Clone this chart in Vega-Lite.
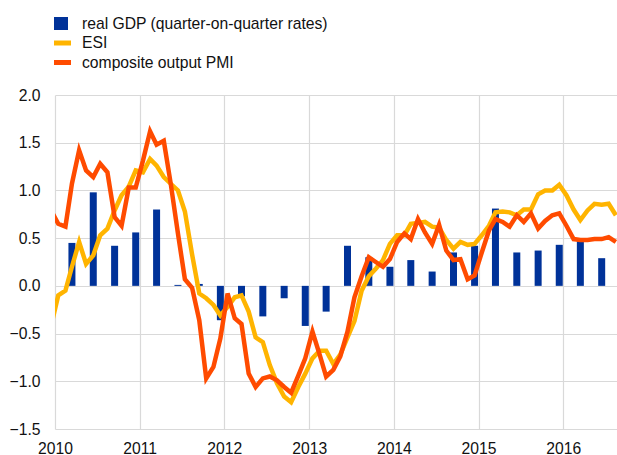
{
  "$schema": "https://vega.github.io/schema/vega-lite/v6.json",
  "width": 562,
  "height": 334,
  "autosize": {"type": "none"},
  "padding": {"left": 55, "top": 95, "right": 0, "bottom": 26},
  "background": "white",
  "config": {
    "view": {"stroke": null},
    "font": "Liberation Sans",
    "axis": {
      "domain": false,
      "ticks": false,
      "tickSize": 0,
      "gridColor": "#d9d9d9",
      "gridWidth": 1.2,
      "labelFont": "Liberation Sans",
      "labelFontSize": 15.7,
      "labelColor": "#111111",
      "title": null
    }
  },
  "datasets": {
    "gdp": [
      {"date": "2010-03-15", "series": "real GDP (quarter-on-quarter rates)", "gdp": 0.45},
      {"date": "2010-06-15", "series": "real GDP (quarter-on-quarter rates)", "gdp": 0.98},
      {"date": "2010-09-15", "series": "real GDP (quarter-on-quarter rates)", "gdp": 0.42},
      {"date": "2010-12-15", "series": "real GDP (quarter-on-quarter rates)", "gdp": 0.56},
      {"date": "2011-03-15", "series": "real GDP (quarter-on-quarter rates)", "gdp": 0.80},
      {"date": "2011-06-15", "series": "real GDP (quarter-on-quarter rates)", "gdp": 0.01},
      {"date": "2011-09-15", "series": "real GDP (quarter-on-quarter rates)", "gdp": 0.02},
      {"date": "2011-12-15", "series": "real GDP (quarter-on-quarter rates)", "gdp": -0.36},
      {"date": "2012-03-15", "series": "real GDP (quarter-on-quarter rates)", "gdp": -0.11},
      {"date": "2012-06-15", "series": "real GDP (quarter-on-quarter rates)", "gdp": -0.32},
      {"date": "2012-09-15", "series": "real GDP (quarter-on-quarter rates)", "gdp": -0.13},
      {"date": "2012-12-15", "series": "real GDP (quarter-on-quarter rates)", "gdp": -0.42},
      {"date": "2013-03-15", "series": "real GDP (quarter-on-quarter rates)", "gdp": -0.27},
      {"date": "2013-06-15", "series": "real GDP (quarter-on-quarter rates)", "gdp": 0.42},
      {"date": "2013-09-15", "series": "real GDP (quarter-on-quarter rates)", "gdp": 0.30},
      {"date": "2013-12-15", "series": "real GDP (quarter-on-quarter rates)", "gdp": 0.20},
      {"date": "2014-03-15", "series": "real GDP (quarter-on-quarter rates)", "gdp": 0.27},
      {"date": "2014-06-15", "series": "real GDP (quarter-on-quarter rates)", "gdp": 0.15},
      {"date": "2014-09-15", "series": "real GDP (quarter-on-quarter rates)", "gdp": 0.35},
      {"date": "2014-12-15", "series": "real GDP (quarter-on-quarter rates)", "gdp": 0.42},
      {"date": "2015-03-15", "series": "real GDP (quarter-on-quarter rates)", "gdp": 0.81},
      {"date": "2015-06-15", "series": "real GDP (quarter-on-quarter rates)", "gdp": 0.35},
      {"date": "2015-09-15", "series": "real GDP (quarter-on-quarter rates)", "gdp": 0.37},
      {"date": "2015-12-15", "series": "real GDP (quarter-on-quarter rates)", "gdp": 0.43},
      {"date": "2016-03-15", "series": "real GDP (quarter-on-quarter rates)", "gdp": 0.47},
      {"date": "2016-06-15", "series": "real GDP (quarter-on-quarter rates)", "gdp": 0.29}
    ],
    "surveys": [
      {"date": "2009-12-15", "esi": -0.42, "pmi": 0.79},
      {"date": "2010-01-15", "esi": -0.10, "pmi": 0.65},
      {"date": "2010-02-15", "esi": -0.05, "pmi": 0.62},
      {"date": "2010-03-15", "esi": 0.20, "pmi": 1.07},
      {"date": "2010-04-15", "esi": 0.46, "pmi": 1.42},
      {"date": "2010-05-15", "esi": 0.23, "pmi": 1.21},
      {"date": "2010-06-15", "esi": 0.32, "pmi": 1.14},
      {"date": "2010-07-15", "esi": 0.53, "pmi": 1.28},
      {"date": "2010-08-15", "esi": 0.60, "pmi": 1.19},
      {"date": "2010-09-15", "esi": 0.79, "pmi": 0.72},
      {"date": "2010-10-15", "esi": 0.95, "pmi": 0.63},
      {"date": "2010-11-15", "esi": 1.04, "pmi": 1.03},
      {"date": "2010-12-15", "esi": 1.21, "pmi": 1.03},
      {"date": "2011-01-15", "esi": 1.19, "pmi": 1.31},
      {"date": "2011-02-15", "esi": 1.33, "pmi": 1.62},
      {"date": "2011-03-15", "esi": 1.26, "pmi": 1.48},
      {"date": "2011-04-15", "esi": 1.14, "pmi": 1.52},
      {"date": "2011-05-15", "esi": 1.07, "pmi": 1.07},
      {"date": "2011-06-15", "esi": 1.00, "pmi": 0.55},
      {"date": "2011-07-15", "esi": 0.78, "pmi": 0.07},
      {"date": "2011-08-15", "esi": 0.33, "pmi": -0.02},
      {"date": "2011-09-15", "esi": -0.08, "pmi": -0.36},
      {"date": "2011-10-15", "esi": -0.13, "pmi": -0.97},
      {"date": "2011-11-15", "esi": -0.20, "pmi": -0.85},
      {"date": "2011-12-15", "esi": -0.31, "pmi": -0.55},
      {"date": "2012-01-15", "esi": -0.22, "pmi": -0.08},
      {"date": "2012-02-15", "esi": -0.12, "pmi": -0.34},
      {"date": "2012-03-15", "esi": -0.10, "pmi": -0.40},
      {"date": "2012-04-15", "esi": -0.27, "pmi": -0.92},
      {"date": "2012-05-15", "esi": -0.54, "pmi": -1.06},
      {"date": "2012-06-15", "esi": -0.59, "pmi": -0.97},
      {"date": "2012-07-15", "esi": -0.83, "pmi": -0.95},
      {"date": "2012-08-15", "esi": -1.02, "pmi": -0.99},
      {"date": "2012-09-15", "esi": -1.16, "pmi": -1.06},
      {"date": "2012-10-15", "esi": -1.22, "pmi": -1.12},
      {"date": "2012-11-15", "esi": -1.06, "pmi": -0.94},
      {"date": "2012-12-15", "esi": -0.92, "pmi": -0.76},
      {"date": "2013-01-15", "esi": -0.76, "pmi": -0.48},
      {"date": "2013-02-15", "esi": -0.68, "pmi": -0.72},
      {"date": "2013-03-15", "esi": -0.68, "pmi": -0.95},
      {"date": "2013-04-15", "esi": -0.82, "pmi": -0.88},
      {"date": "2013-05-15", "esi": -0.72, "pmi": -0.74},
      {"date": "2013-06-15", "esi": -0.54, "pmi": -0.48},
      {"date": "2013-07-15", "esi": -0.37, "pmi": -0.12},
      {"date": "2013-08-15", "esi": -0.05, "pmi": 0.10},
      {"date": "2013-09-15", "esi": 0.10, "pmi": 0.30},
      {"date": "2013-10-15", "esi": 0.18, "pmi": 0.25},
      {"date": "2013-11-15", "esi": 0.27, "pmi": 0.20},
      {"date": "2013-12-15", "esi": 0.44, "pmi": 0.28},
      {"date": "2014-01-15", "esi": 0.53, "pmi": 0.46},
      {"date": "2014-02-15", "esi": 0.53, "pmi": 0.55},
      {"date": "2014-03-15", "esi": 0.65, "pmi": 0.49},
      {"date": "2014-04-15", "esi": 0.66, "pmi": 0.70},
      {"date": "2014-05-15", "esi": 0.67, "pmi": 0.56},
      {"date": "2014-06-15", "esi": 0.62, "pmi": 0.44},
      {"date": "2014-07-15", "esi": 0.61, "pmi": 0.64},
      {"date": "2014-08-15", "esi": 0.48, "pmi": 0.37},
      {"date": "2014-09-15", "esi": 0.39, "pmi": 0.27},
      {"date": "2014-10-15", "esi": 0.46, "pmi": 0.28},
      {"date": "2014-11-15", "esi": 0.43, "pmi": 0.07},
      {"date": "2014-12-15", "esi": 0.44, "pmi": 0.11},
      {"date": "2015-01-15", "esi": 0.53, "pmi": 0.35},
      {"date": "2015-02-15", "esi": 0.63, "pmi": 0.58},
      {"date": "2015-03-15", "esi": 0.77, "pmi": 0.70},
      {"date": "2015-04-15", "esi": 0.78, "pmi": 0.67},
      {"date": "2015-05-15", "esi": 0.77, "pmi": 0.62},
      {"date": "2015-06-15", "esi": 0.74, "pmi": 0.74},
      {"date": "2015-07-15", "esi": 0.80, "pmi": 0.67},
      {"date": "2015-08-15", "esi": 0.80, "pmi": 0.76},
      {"date": "2015-09-15", "esi": 0.96, "pmi": 0.60},
      {"date": "2015-10-15", "esi": 1.00, "pmi": 0.68},
      {"date": "2015-11-15", "esi": 1.00, "pmi": 0.74},
      {"date": "2015-12-15", "esi": 1.06, "pmi": 0.76},
      {"date": "2016-01-15", "esi": 0.95, "pmi": 0.63},
      {"date": "2016-02-15", "esi": 0.80, "pmi": 0.49},
      {"date": "2016-03-15", "esi": 0.69, "pmi": 0.48},
      {"date": "2016-04-15", "esi": 0.79, "pmi": 0.48},
      {"date": "2016-05-15", "esi": 0.86, "pmi": 0.49},
      {"date": "2016-06-15", "esi": 0.85, "pmi": 0.49},
      {"date": "2016-07-15", "esi": 0.86, "pmi": 0.51},
      {"date": "2016-08-15", "esi": 0.74, "pmi": 0.46}
    ]
  },
  "layer": [
    {
      "data": {"name": "gdp"},
      "mark": {"type": "bar", "width": 7},
      "encoding": {
        "x": {
          "field": "date",
          "type": "temporal",
          "title": null,
          "scale": {
            "type": "utc",
            "padding": 0,
            "nice": false,
            "domain": [
              {"year": 2010, "month": 1, "date": 1, "utc": true},
              {"year": 2016, "month": 8, "date": 20, "utc": true}
            ]
          },
          "axis": {
            "tickCount": {"interval": "year", "step": 1},
            "format": "%Y",
            "labelPadding": 12,
            "labelFlush": false,
            "labelOverlap": false,
            "grid": true
          }
        },
        "y": {
          "field": "gdp",
          "type": "quantitative",
          "title": null,
          "scale": {"domain": [-1.5, 2.0], "nice": false, "zero": false, "padding": 0},
          "axis": {
            "values": [-1.5, -1.0, -0.5, 0.0, 0.5, 1.0, 1.5, 2.0],
            "format": ".1f",
            "labelPadding": 15,
            "labelFlush": false,
            "grid": true
          }
        },
        "color": {
          "field": "series",
          "type": "nominal",
          "scale": {
            "domain": ["real GDP (quarter-on-quarter rates)", "ESI", "composite output PMI"],
            "range": ["#003299", "#FFB400", "#FF4B00"]
          },
          "legend": {
            "orient": "none",
            "legendX": -1,
            "legendY": -80,
            "title": null,
            "padding": 0,
            "symbolSize": 289,
            "symbolStrokeWidth": 0,
            "labelFont": "Liberation Sans",
            "labelFontSize": 15.7,
            "labelColor": "#111111",
            "labelOffset": 11,
            "labelLimit": 400,
            "rowPadding": 2.5,
            "encode": {
              "symbols": {
                "update": {
                  "shape": {"signal": "datum.value === 'real GDP (quarter-on-quarter rates)' ? 'M-1,-0.765H0.647V0.765H-1Z' : 'M-1,-0.294H1V0.294H-1Z'"},
                  "strokeWidth": {"value": 0},
                  "opacity": {"value": 1}
                }
              }
            }
          }
        }
      }
    },
    {
      "data": {"name": "surveys"},
      "mark": {"type": "line", "color": "#FFB400", "strokeWidth": 4.5, "clip": true},
      "encoding": {
        "x": {"field": "date", "type": "temporal"},
        "y": {"field": "esi", "type": "quantitative"}
      }
    },
    {
      "data": {"name": "surveys"},
      "mark": {"type": "line", "color": "#FF4B00", "strokeWidth": 4.5, "clip": true},
      "encoding": {
        "x": {"field": "date", "type": "temporal"},
        "y": {"field": "pmi", "type": "quantitative"}
      }
    }
  ]
}
